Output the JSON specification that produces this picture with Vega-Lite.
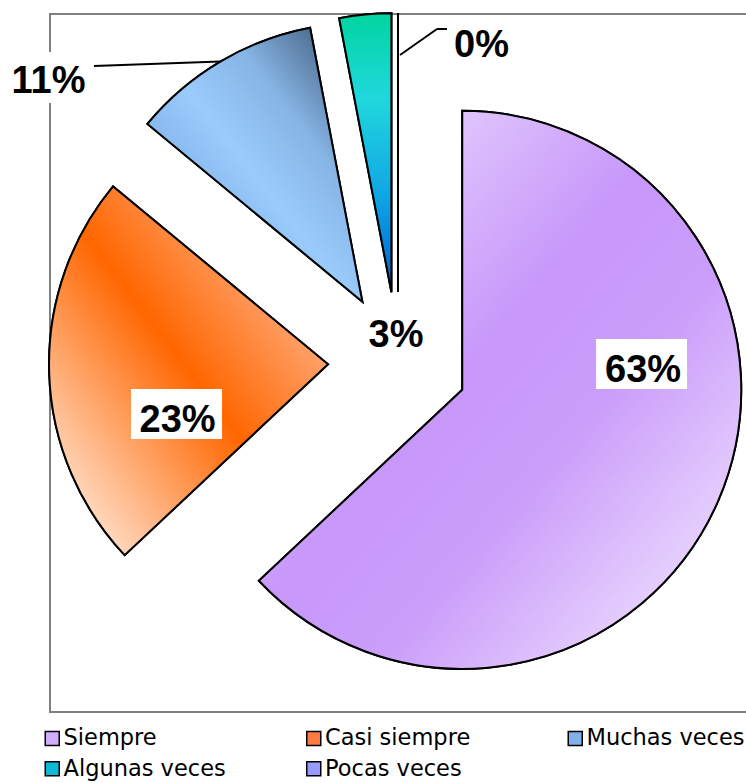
{
  "$schema": "https://vega.github.io/schema/vega-lite/v6.json",
  "background": "white",
  "autosize": {"type": "none"},
  "padding": {"left": 50, "top": 14, "right": 0, "bottom": 71},
  "width": 697,
  "height": 698,
  "data": {
    "values": [
      {"categoria": "Siempre", "proporcion": 0.63, "orden": 1},
      {"categoria": "Casi siempre", "proporcion": 0.23, "orden": 2},
      {"categoria": "Muchas veces", "proporcion": 0.11, "orden": 3},
      {"categoria": "Algunas veces", "proporcion": 0.03, "orden": 4},
      {"categoria": "Pocas veces", "proporcion": 0.0, "orden": 5}
    ]
  },
  "transform": [
    {"stack": "proporcion", "groupby": [], "sort": [{"field": "orden", "order": "ascending"}], "as": ["p0", "p1"]},
    {"calculate": "PI * (datum.p0 + datum.p1)", "as": "mid"},
    {"calculate": "70 * sin(datum.mid)", "as": "cx"},
    {"calculate": "70 * cos(datum.mid)", "as": "cy"},
    {"calculate": "datum.cx + 279 * sin(datum.mid)", "as": "bx"},
    {"calculate": "datum.cy + 279 * cos(datum.mid)", "as": "by"}
  ],
  "layer": [
    {
      "mark": {"type": "arc", "radius": 279, "stroke": "#000000", "strokeWidth": 2, "strokeJoin": "miter"},
      "encoding": {
        "theta": {"field": "p0", "type": "quantitative", "scale": {"domain": [0, 1], "range": [0, 6.283185307179586]}},
        "theta2": {"field": "p1"},
        "x": {"field": "cx", "type": "quantitative", "axis": null, "scale": {"domain": [-348, 349], "nice": false, "zero": false}},
        "y": {"field": "cy", "type": "quantitative", "axis": null, "scale": {"domain": [-350, 348], "nice": false, "zero": false}},
        "color": {
          "field": "categoria",
          "type": "nominal",
          "scale": {
            "domain": ["Siempre", "Casi siempre", "Muchas veces", "Algunas veces", "Pocas veces"],
            "range": ["#d2adfb", "#ff7a40", "#80b2e8", "#10b8d8", "#9999ff"]
          },
          "legend": {
            "title": null,
            "orient": "none",
            "legendX": -9,
            "legendY": 713,
            "columns": 3,
            "direction": "horizontal",
            "symbolType": "square",
            "symbolSize": 196,
            "symbolStrokeColor": "#000000",
            "symbolStrokeWidth": 1.5,
            "labelFont": "DejaVu Sans",
            "labelFontSize": 22.5,
            "labelColor": "#000000",
            "labelOffset": 0,
            "labelLimit": 400,
            "columnPadding": 76.5,
            "rowPadding": 7.5,
            "gridAlign": "all",
            "padding": 0
          }
        }
      }
    },
    {
      "transform": [{"filter": {"field": "categoria", "equal": "Siempre"}}],
      "mark": {"type": "arc", "radius": 279, "stroke": "#000000", "strokeWidth": 2, "strokeJoin": "miter",
        "fill": {"gradient": "linear", "x1": 0, "y1": 0, "x2": 1, "y2": 1, "stops": [
          {"offset": 0, "color": "#f4ecfe"}, {"offset": 0.45, "color": "#c797fa"}, {"offset": 0.62, "color": "#cb9efa"}, {"offset": 1, "color": "#f7f1ff"}]}},
      "encoding": {
        "theta": {"field": "p0", "type": "quantitative", "scale": {"domain": [0, 1], "range": [0, 6.283185307179586]}},
        "theta2": {"field": "p1"},
        "x": {"field": "cx", "type": "quantitative", "scale": {"domain": [-348, 349], "nice": false, "zero": false}},
        "y": {"field": "cy", "type": "quantitative", "scale": {"domain": [-350, 348], "nice": false, "zero": false}}
      }
    },
    {
      "transform": [{"filter": {"field": "categoria", "equal": "Casi siempre"}}],
      "mark": {"type": "arc", "radius": 279, "stroke": "#000000", "strokeWidth": 2, "strokeJoin": "miter",
        "fill": {"gradient": "linear", "x1": 0, "y1": 1, "x2": 1, "y2": 0, "stops": [
          {"offset": 0, "color": "#ffffff"}, {"offset": 0.5, "color": "#ff6600"}, {"offset": 1, "color": "#ffd8cc"}]}},
      "encoding": {
        "theta": {"field": "p0", "type": "quantitative", "scale": {"domain": [0, 1], "range": [0, 6.283185307179586]}},
        "theta2": {"field": "p1"},
        "x": {"field": "cx", "type": "quantitative", "scale": {"domain": [-348, 349], "nice": false, "zero": false}},
        "y": {"field": "cy", "type": "quantitative", "scale": {"domain": [-350, 348], "nice": false, "zero": false}}
      }
    },
    {
      "transform": [{"filter": {"field": "categoria", "equal": "Muchas veces"}}],
      "mark": {"type": "arc", "radius": 279, "stroke": "#000000", "strokeWidth": 2, "strokeJoin": "miter",
        "fill": {"gradient": "linear", "x1": 0, "y1": 1, "x2": 1, "y2": 0, "stops": [
          {"offset": 0, "color": "#6494cc"}, {"offset": 0.48, "color": "#9acbfd"}, {"offset": 0.68, "color": "#86b4e4"}, {"offset": 1, "color": "#2f4560"}]}},
      "encoding": {
        "theta": {"field": "p0", "type": "quantitative", "scale": {"domain": [0, 1], "range": [0, 6.283185307179586]}},
        "theta2": {"field": "p1"},
        "x": {"field": "cx", "type": "quantitative", "scale": {"domain": [-348, 349], "nice": false, "zero": false}},
        "y": {"field": "cy", "type": "quantitative", "scale": {"domain": [-350, 348], "nice": false, "zero": false}}
      }
    },
    {
      "transform": [{"filter": {"field": "categoria", "equal": "Algunas veces"}}],
      "mark": {"type": "arc", "radius": 279, "stroke": "#000000", "strokeWidth": 2, "strokeJoin": "miter",
        "fill": {"gradient": "linear", "x1": 0, "y1": 0, "x2": 0, "y2": 1, "stops": [
          {"offset": 0, "color": "#00d4a0"}, {"offset": 0.3, "color": "#20d8dc"}, {"offset": 0.65, "color": "#10a6e4"}, {"offset": 1, "color": "#0060d0"}]}},
      "encoding": {
        "theta": {"field": "p0", "type": "quantitative", "scale": {"domain": [0, 1], "range": [0, 6.283185307179586]}},
        "theta2": {"field": "p1"},
        "x": {"field": "cx", "type": "quantitative", "scale": {"domain": [-348, 349], "nice": false, "zero": false}},
        "y": {"field": "cy", "type": "quantitative", "scale": {"domain": [-350, 348], "nice": false, "zero": false}}
      }
    },
    {
      "transform": [{"filter": {"field": "categoria", "equal": "Muchas veces"}}],
      "mark": {"type": "rule", "color": "#000000", "strokeWidth": 2, "x2Offset": -126.4, "y2Offset": 4.3},
      "encoding": {
        "x": {"field": "bx", "type": "quantitative", "scale": {"domain": [-348, 349], "nice": false, "zero": false}},
        "y": {"field": "by", "type": "quantitative", "scale": {"domain": [-350, 348], "nice": false, "zero": false}},
        "x2": {"field": "bx"},
        "y2": {"field": "by"}
      }
    },
    {
      "transform": [{"filter": {"field": "categoria", "equal": "Pocas veces"}}],
      "mark": {"type": "rule", "color": "#000000", "strokeWidth": 2, "xOffset": 2, "yOffset": -237, "x2Offset": 39, "y2Offset": -263},
      "encoding": {
        "x": {"field": "cx", "type": "quantitative", "scale": {"domain": [-348, 349], "nice": false, "zero": false}},
        "y": {"field": "cy", "type": "quantitative", "scale": {"domain": [-350, 348], "nice": false, "zero": false}},
        "x2": {"field": "cx"},
        "y2": {"field": "cy"}
      }
    },
    {
      "transform": [{"filter": {"field": "categoria", "equal": "Pocas veces"}}],
      "mark": {"type": "rule", "color": "#000000", "strokeWidth": 2, "xOffset": 39, "yOffset": -263, "x2Offset": 49, "y2Offset": -263},
      "encoding": {
        "x": {"field": "cx", "type": "quantitative", "scale": {"domain": [-348, 349], "nice": false, "zero": false}},
        "y": {"field": "cy", "type": "quantitative", "scale": {"domain": [-350, 348], "nice": false, "zero": false}},
        "x2": {"field": "cx"},
        "y2": {"field": "cy"}
      }
    },
    {
      "transform": [{"filter": {"field": "categoria", "equal": "Siempre"}}],
      "mark": {"type": "rect", "color": "#ffffff", "xOffset": 133.8, "x2Offset": 224.8, "yOffset": -50.8, "y2Offset": -0.8},
      "encoding": {
        "x": {"field": "cx", "type": "quantitative", "scale": {"domain": [-348, 349], "nice": false, "zero": false}},
        "y": {"field": "cy", "type": "quantitative", "scale": {"domain": [-350, 348], "nice": false, "zero": false}},
        "x2": {"field": "cx"},
        "y2": {"field": "cy"}
      }
    },
    {
      "transform": [{"filter": {"field": "categoria", "equal": "Casi siempre"}}],
      "mark": {"type": "rect", "color": "#ffffff", "xOffset": -197, "x2Offset": -106, "yOffset": 24.8, "y2Offset": 74.8},
      "encoding": {
        "x": {"field": "cx", "type": "quantitative", "scale": {"domain": [-348, 349], "nice": false, "zero": false}},
        "y": {"field": "cy", "type": "quantitative", "scale": {"domain": [-350, 348], "nice": false, "zero": false}},
        "x2": {"field": "cx"},
        "y2": {"field": "cy"}
      }
    },
    {
      "transform": [{"filter": {"field": "categoria", "equal": "Muchas veces"}}],
      "mark": {"type": "rect", "color": "#ffffff", "xOffset": -358.4, "x2Offset": -269.4, "yOffset": -249.8, "y2Offset": -198.8},
      "encoding": {
        "x": {"field": "cx", "type": "quantitative", "scale": {"domain": [-348, 349], "nice": false, "zero": false}},
        "y": {"field": "cy", "type": "quantitative", "scale": {"domain": [-350, 348], "nice": false, "zero": false}},
        "x2": {"field": "cx"},
        "y2": {"field": "cy"}
      }
    },
    {
      "transform": [{"filter": {"field": "categoria", "equal": "Siempre"}}],
      "mark": {"type": "text", "font": "Liberation Sans", "fontWeight": "bold", "fontSize": 38, "align": "center", "baseline": "alphabetic", "color": "#000000", "dx": 180.8, "dy": -7.8},
      "encoding": {
        "x": {"field": "cx", "type": "quantitative", "scale": {"domain": [-348, 349], "nice": false, "zero": false}},
        "y": {"field": "cy", "type": "quantitative", "scale": {"domain": [-350, 348], "nice": false, "zero": false}},
        "text": {"field": "proporcion", "type": "quantitative", "format": ".0%"}
      }
    },
    {
      "transform": [{"filter": {"field": "categoria", "equal": "Casi siempre"}}],
      "mark": {"type": "text", "font": "Liberation Sans", "fontWeight": "bold", "fontSize": 38, "align": "center", "baseline": "alphabetic", "color": "#000000", "dx": -150.5, "dy": 67.8},
      "encoding": {
        "x": {"field": "cx", "type": "quantitative", "scale": {"domain": [-348, 349], "nice": false, "zero": false}},
        "y": {"field": "cy", "type": "quantitative", "scale": {"domain": [-350, 348], "nice": false, "zero": false}},
        "text": {"field": "proporcion", "type": "quantitative", "format": ".0%"}
      }
    },
    {
      "transform": [{"filter": {"field": "categoria", "equal": "Muchas veces"}}],
      "mark": {"type": "text", "font": "Liberation Sans", "fontWeight": "bold", "fontSize": 38, "align": "center", "baseline": "alphabetic", "color": "#000000", "dx": -313.9, "dy": -208.8},
      "encoding": {
        "x": {"field": "cx", "type": "quantitative", "scale": {"domain": [-348, 349], "nice": false, "zero": false}},
        "y": {"field": "cy", "type": "quantitative", "scale": {"domain": [-350, 348], "nice": false, "zero": false}},
        "text": {"field": "proporcion", "type": "quantitative", "format": ".0%"}
      }
    },
    {
      "transform": [{"filter": {"field": "categoria", "equal": "Algunas veces"}}],
      "mark": {"type": "text", "font": "Liberation Sans", "fontWeight": "bold", "fontSize": 38, "align": "center", "baseline": "alphabetic", "color": "#000000", "dx": 4.6, "dy": 54.7},
      "encoding": {
        "x": {"field": "cx", "type": "quantitative", "scale": {"domain": [-348, 349], "nice": false, "zero": false}},
        "y": {"field": "cy", "type": "quantitative", "scale": {"domain": [-350, 348], "nice": false, "zero": false}},
        "text": {"field": "proporcion", "type": "quantitative", "format": ".0%"}
      }
    },
    {
      "transform": [{"filter": {"field": "categoria", "equal": "Pocas veces"}}],
      "mark": {"type": "text", "font": "Liberation Sans", "fontWeight": "bold", "fontSize": 38, "align": "center", "baseline": "alphabetic", "color": "#000000", "dx": 83.5, "dy": -235},
      "encoding": {
        "x": {"field": "cx", "type": "quantitative", "scale": {"domain": [-348, 349], "nice": false, "zero": false}},
        "y": {"field": "cy", "type": "quantitative", "scale": {"domain": [-350, 348], "nice": false, "zero": false}},
        "text": {"field": "proporcion", "type": "quantitative", "format": ".0%"}
      }
    }
  ],
  "config": {
    "view": {"stroke": "#808080", "strokeWidth": 2}
  }
}
